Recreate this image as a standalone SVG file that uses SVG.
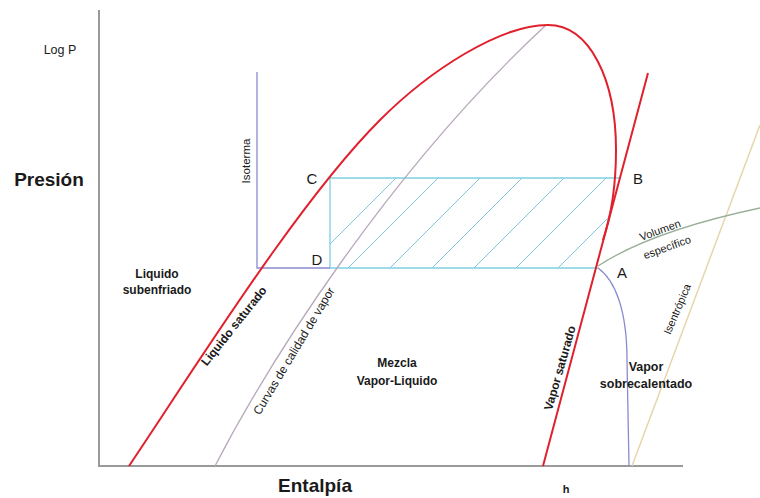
<svg xmlns="http://www.w3.org/2000/svg" width="760" height="498" viewBox="0 0 760 498">
<style>
.lbl{font-family:"Liberation Sans",Arial,sans-serif;fill:#1a1a1a}
.b{font-weight:bold}
.axis{stroke:#9a9a9a;stroke-width:2;fill:none}
.red{stroke:#e0202c;stroke-width:2;fill:none}
.iso{stroke:#8a8ad0;stroke-width:1.3;fill:none}
.cyan{stroke:#7ccfe0;stroke-width:1.3;fill:none}
.hatch{stroke:#84c6dc;stroke-width:1;fill:none}
</style>
<defs>
<clipPath id="rectclip"><polygon points="330,178 620,178 596,268 330,268"/></clipPath>
</defs>
<rect width="760" height="498" fill="#ffffff"/>
<g id="axes">
<line class="axis" x1="99" y1="10" x2="99" y2="467"/>
<line class="axis" x1="98" y1="466" x2="683" y2="466"/>
</g>
<g id="cycle-area">
<g clip-path="url(#rectclip)">
<line class="hatch" x1="306" y1="268" x2="396" y2="178"/>
<line class="hatch" x1="348" y1="268" x2="438" y2="178"/>
<line class="hatch" x1="390" y1="268" x2="480" y2="178"/>
<line class="hatch" x1="432" y1="268" x2="522" y2="178"/>
<line class="hatch" x1="474" y1="268" x2="564" y2="178"/>
<line class="hatch" x1="516" y1="268" x2="606" y2="178"/>
<line class="hatch" x1="558" y1="268" x2="648" y2="178"/>
</g>
<polyline class="cyan" points="620,178 330,178 330,268 598,268"/>
</g>
<g id="connectors">
<path class="iso" d="M257,72 L257,268 L330,268"/>
<path class="iso" d="M598,268 C615,280 627,310 627,360 L629,466"/>
<path d="M215,466 C270,360 390,170 545,26" stroke="#b8a8bc" stroke-width="1.3" fill="none"/>
<line x1="632" y1="466" x2="760" y2="125" stroke="#e6d6ae" stroke-width="1.5"/>
<path d="M598,266 C630,245 680,225 760,208" stroke="#9aae98" stroke-width="1.3" fill="none"/>
<path class="red" d="M129,466 C200,360 300,200 380,120 C430,70 500,25 548,25 C590,25 616,80 616,150 C616,195 609,222 603,240"/>
<line class="red" x1="648" y1="73" x2="543" y2="466"/>
</g>
<g id="labels">
<text class="lbl" x="60" y="54" font-size="12.5" text-anchor="middle">Log P</text>
<text class="lbl b" x="49" y="186" font-size="19" text-anchor="middle">Presión</text>
<text class="lbl b" x="315" y="492" font-size="19" text-anchor="middle">Entalpía</text>
<text class="lbl b" x="566" y="493" font-size="11" text-anchor="middle">h</text>
<text class="lbl" x="312" y="184" font-size="15" text-anchor="middle">C</text>
<text class="lbl" x="638" y="184" font-size="15" text-anchor="middle">B</text>
<text class="lbl" x="317" y="265" font-size="15" text-anchor="middle">D</text>
<text class="lbl" x="622" y="278" font-size="15" text-anchor="middle">A</text>
<text class="lbl" font-size="11.5" text-anchor="middle" transform="translate(246,161) rotate(-90) translate(0,4)">Isoterma</text>
<text class="lbl b" x="157" y="278" font-size="12" text-anchor="middle">Liquido</text>
<text class="lbl b" x="157" y="294" font-size="12" text-anchor="middle">subenfriado</text>
<text class="lbl b" font-size="12" text-anchor="middle" transform="translate(234,326) rotate(-51.5) translate(0,4)">Liquido saturado</text>
<text class="lbl" font-size="12" text-anchor="middle" transform="translate(294,351) rotate(-59) translate(0,4)">Curvas de calidad de vapor</text>
<text class="lbl b" x="397" y="367" font-size="12" text-anchor="middle">Mezcla</text>
<text class="lbl b" x="397" y="385" font-size="12" text-anchor="middle">Vapor-Liquido</text>
<text class="lbl b" font-size="12" text-anchor="middle" transform="translate(560,368) rotate(-74) translate(0,4)">Vapor saturado</text>
<text class="lbl b" x="646" y="371" font-size="12.5" text-anchor="middle">Vapor</text>
<text class="lbl b" x="646" y="388" font-size="12.5" text-anchor="middle">sobrecalentado</text>
<text class="lbl" font-size="11" text-anchor="middle" fill="#333" transform="translate(677,309) rotate(-67) translate(0,4)">Isentrópica</text>
<text class="lbl" font-size="11" text-anchor="middle" transform="translate(660,230) rotate(-20) translate(0,4)">Volumen</text>
<text class="lbl" font-size="11" text-anchor="middle" transform="translate(667,247) rotate(-20) translate(0,4)">específico</text>
</g>
</svg>
